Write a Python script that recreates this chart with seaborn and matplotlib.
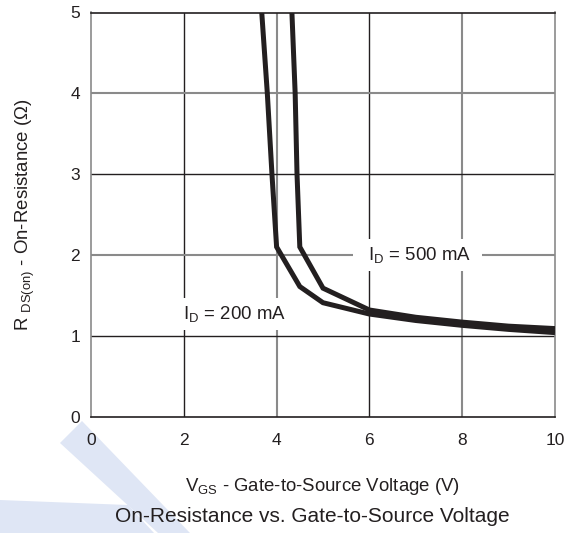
import matplotlib
matplotlib.use("Agg")
import matplotlib.pyplot as plt
from matplotlib.patches import Polygon
import seaborn as sns
import pandas as pd

# Gate-to-source voltage (V) and on-resistance (ohm) per drain current
vgs_200 = [3.68, 3.80, 3.90, 4.00, 4.50, 5.00, 6.00, 7.00, 8.00, 9.00, 10.00]
rds_200 = [5.00, 4.00, 3.00, 2.10, 1.61, 1.41, 1.27, 1.19, 1.13, 1.08, 1.04]
vgs_500 = [4.33, 4.40, 4.44, 4.50, 5.00, 6.00, 7.00, 8.00, 9.00, 10.00]
rds_500 = [5.00, 4.00, 3.00, 2.10, 1.59, 1.32, 1.23, 1.17, 1.12, 1.09]

x_ticks = [0, 2, 4, 6, 8, 10]
y_ticks = [0, 1, 2, 3, 4, 5]

df = pd.concat([
    pd.DataFrame({"vgs": vgs_200, "rds": rds_200, "id": "200 mA"}),
    pd.DataFrame({"vgs": vgs_500, "rds": rds_500, "id": "500 mA"}),
], ignore_index=True)

sns.set_theme(style="white")
plt.rcParams["font.family"] = ["Liberation Sans", "DejaVu Sans"]
plt.rcParams["mathtext.fontset"] = "custom"
plt.rcParams["mathtext.rm"] = "Liberation Sans"
plt.rcParams["mathtext.it"] = "Liberation Sans"

INK = "#231f20"
GRAY = "#8a8a8a"

fig = plt.figure(figsize=(5.81, 5.33), dpi=100)

# faint logo strips behind the lower-left corner (figure pixel coords)
W, H = 581.0, 533.0
def fpoly(pts, **kw):
    p = Polygon([(x / W, 1 - y / H) for x, y in pts], closed=True,
                transform=fig.transFigure, **kw)
    fig.patches.append(p)

fpoly([(0, 500), (128, 505), (154, 533), (0, 533)], facecolor="#dfe6f5",
      edgecolor="none", zorder=-1)
fpoly([(82, 421), (60, 443), (158, 533), (190, 533)], facecolor="#dfe6f5",
      edgecolor="none", zorder=-1)

ax = fig.add_axes([91 / W, 1 - 416.7 / H, (555 - 91) / W, (416.7 - 12.5) / H])
ax.set_facecolor("none")

sns.lineplot(data=df, x="vgs", y="rds", units="id", estimator=None, sort=False,
             color=INK, linewidth=3.6, ax=ax, legend=False, zorder=4)
for ln in ax.get_lines():
    ln.set_solid_capstyle("butt")
    ln.set_solid_joinstyle("miter")

ax.set_xlim(0, 10)
ax.set_ylim(0, 5)
ax.set_xticks(x_ticks)
ax.set_yticks(y_ticks)
ax.set_xticklabels([str(v) for v in x_ticks])
ax.set_yticklabels([str(v) for v in y_ticks])
ax.tick_params(axis="both", length=0, labelsize=12.5, colors=INK)
ax.tick_params(axis="x", pad=12)
ax.tick_params(axis="y", pad=8)

# grid: alternating dark and gray rules
for v in x_ticks[1:-1]:
    dark = (v // 2) % 2 == 1
    ax.axvline(v, color=INK if dark else GRAY, lw=1.0 if dark else 1.5, zorder=1)
for v in y_ticks[1:-1]:
    dark = v % 2 == 1
    ax.axhline(v, color=INK if dark else GRAY, lw=1.0 if dark else 1.5, zorder=1)

ax.spines["top"].set_color(INK)
ax.spines["bottom"].set_color(INK)
ax.spines["left"].set_color(GRAY)
ax.spines["right"].set_color(GRAY)
for s in ax.spines.values():
    s.set_linewidth(1.2)
    s.set_visible(True)

box = dict(boxstyle="square,pad=0.3", facecolor="white", edgecolor="none")
ax.text(7.03, 2.0, r"  I$_{\mathrm{D}}$ = 500 mA  ", ha="center", va="center",
        fontsize=13.4, color=INK, bbox=box, zorder=3)
ax.text(3.04, 1.27, r"  I$_{\mathrm{D}}$ = 200 mA  ", ha="center", va="center",
        fontsize=13.4, color=INK, bbox=box, zorder=3)

ax.set_xlabel(r"V$_{\mathrm{GS}}$ - Gate-to-Source Voltage (V)", fontsize=13.4,
              color=INK, labelpad=20)
ax.set_ylabel(r"R $_{\mathrm{DS(on)}}$ - On-Resistance (Ω)", fontsize=13.4,
              color=INK, labelpad=24)

fig.text(312 / W, 1 - 516 / H, "On-Resistance vs. Gate-to-Source Voltage",
         ha="center", va="center", fontsize=15, color=INK)

fig.savefig("out.png", dpi=100)
